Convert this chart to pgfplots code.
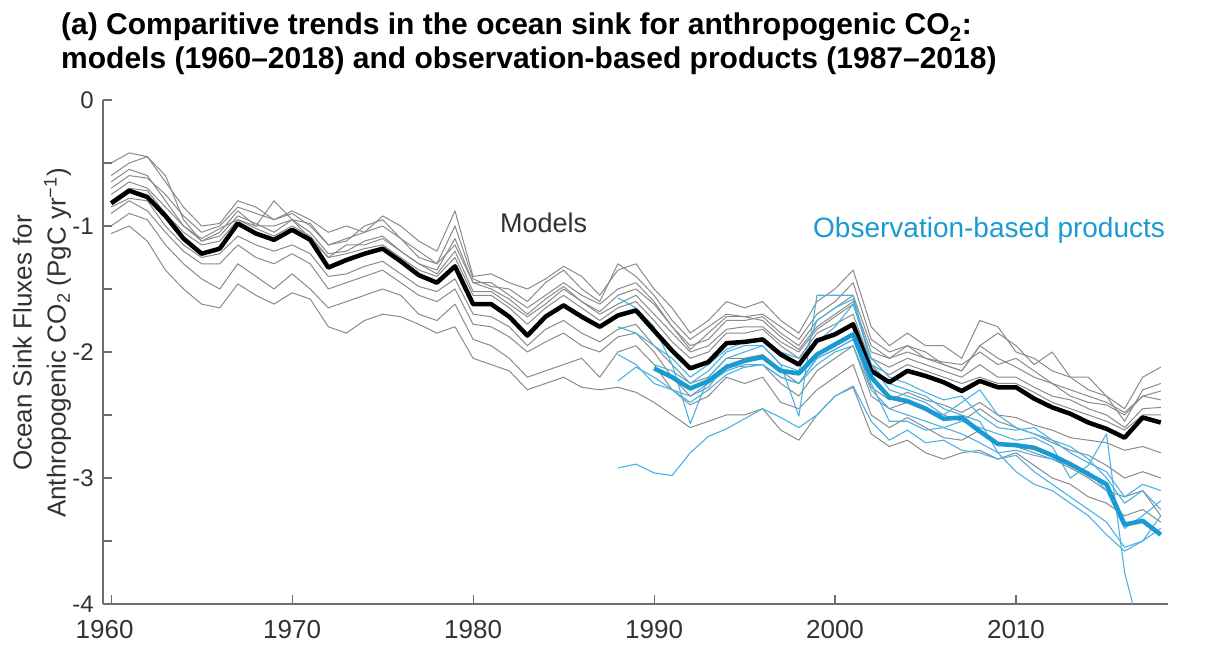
\documentclass[border=0pt]{standalone}
\usepackage{fontspec}
\setmainfont{Liberation Sans}
\usepackage{pgfplots}
\usepackage{pgfplotstable}
\pgfplotsset{compat=1.18}
\definecolor{obsblue}{RGB}{25,155,210}
\definecolor{obsthin}{RGB}{75,178,226}
\definecolor{modgrey}{RGB}{138,138,138}
\definecolor{axgrey}{RGB}{110,110,110}
\definecolor{txtgrey}{RGB}{50,50,50}

\pgfplotstableread{
year mean u1 u2 u3 u4 u5 u6 l1 l2 l3 l4
1960 -0.82 -0.50 -0.60 -0.70 -0.75 -0.65 -0.80 -1.06 -1.00 -0.90 -0.85
1961 -0.72 -0.42 -0.50 -0.60 -0.65 -0.55 -0.70 -1.00 -0.90 -0.80 -0.78
1962 -0.77 -0.45 -0.45 -0.62 -0.70 -0.60 -0.72 -1.12 -0.95 -0.88 -0.80
1963 -0.92 -0.65 -0.60 -0.75 -0.85 -0.80 -0.90 -1.35 -1.15 -1.05 -1.00
1964 -1.10 -0.85 -0.95 -0.92 -1.00 -1.00 -1.05 -1.50 -1.30 -1.20 -1.15
1965 -1.22 -1.00 -1.12 -1.05 -1.12 -1.10 -1.15 -1.62 -1.42 -1.30 -1.25
1966 -1.18 -0.98 -1.05 -1.00 -1.08 -1.02 -1.12 -1.65 -1.50 -1.30 -1.22
1967 -0.98 -0.80 -0.88 -0.85 -0.92 -0.95 -0.95 -1.46 -1.30 -1.15 -1.08
1968 -1.06 -0.85 -1.00 -0.90 -0.98 -1.00 -1.02 -1.55 -1.40 -1.25 -1.15
1969 -1.11 -0.95 -0.80 -0.95 -1.05 -1.00 -1.08 -1.62 -1.50 -1.30 -1.20
1970 -1.03 -0.88 -0.95 -0.90 -0.95 -0.95 -1.00 -1.53 -1.38 -1.22 -1.15
1971 -1.11 -0.95 -0.98 -1.00 -1.05 -1.10 -1.08 -1.58 -1.50 -1.30 -1.22
1972 -1.33 -1.05 -1.15 -1.15 -1.22 -1.25 -1.25 -1.80 -1.65 -1.50 -1.40
1973 -1.27 -1.00 -1.12 -1.10 -1.20 -1.15 -1.22 -1.85 -1.60 -1.45 -1.38
1974 -1.22 -1.05 -1.00 -1.05 -1.12 -1.15 -1.18 -1.75 -1.55 -1.40 -1.32
1975 -1.18 -0.92 -0.95 -1.00 -1.08 -1.10 -1.15 -1.70 -1.50 -1.35 -1.28
1976 -1.28 -1.00 -1.10 -1.10 -1.20 -1.20 -1.25 -1.72 -1.55 -1.45 -1.38
1977 -1.39 -1.12 -1.20 -1.25 -1.30 -1.30 -1.35 -1.78 -1.70 -1.55 -1.48
1978 -1.45 -1.20 -1.30 -1.30 -1.38 -1.35 -1.40 -1.85 -1.75 -1.60 -1.52
1979 -1.32 -0.88 -1.00 -1.15 -1.20 -1.10 -1.25 -1.80 -1.62 -1.50 -1.42
1980 -1.62 -1.40 -1.42 -1.45 -1.52 -1.45 -1.55 -2.05 -1.90 -1.78 -1.70
1981 -1.62 -1.38 -1.48 -1.45 -1.52 -1.50 -1.55 -2.10 -1.95 -1.80 -1.72
1982 -1.72 -1.45 -1.50 -1.55 -1.62 -1.58 -1.65 -2.15 -2.05 -1.88 -1.80
1983 -1.87 -1.50 -1.60 -1.65 -1.72 -1.70 -1.78 -2.30 -2.20 -2.00 -1.95
1984 -1.72 -1.42 -1.45 -1.55 -1.62 -1.58 -1.65 -2.25 -2.15 -1.92 -1.82
1985 -1.63 -1.32 -1.35 -1.45 -1.50 -1.48 -1.55 -2.20 -2.10 -1.85 -1.75
1986 -1.72 -1.40 -1.50 -1.55 -1.60 -1.60 -1.65 -2.28 -2.05 -1.95 -1.85
1987 -1.80 -1.55 -1.60 -1.62 -1.70 -1.68 -1.75 -2.30 -2.20 -2.00 -1.92
1988 -1.71 -1.35 -1.30 -1.50 -1.62 -1.55 -1.65 -2.28 -2.00 -1.88 -1.82
1989 -1.67 -1.30 -1.40 -1.45 -1.55 -1.50 -1.60 -2.32 -1.95 -1.85 -1.78
1990 -1.83 -1.50 -1.55 -1.60 -1.70 -1.62 -1.75 -2.40 -2.10 -2.00 -1.95
1991 -1.99 -1.65 -1.75 -1.80 -1.85 -1.80 -1.92 -2.50 -2.30 -2.20 -2.10
1992 -2.13 -1.85 -1.90 -1.95 -2.00 -1.98 -2.05 -2.60 -2.42 -2.35 -2.25
1993 -2.08 -1.75 -1.80 -1.90 -1.95 -1.85 -2.00 -2.55 -2.35 -2.28 -2.20
1994 -1.93 -1.60 -1.70 -1.75 -1.82 -1.72 -1.85 -2.50 -2.20 -2.10 -2.05
1995 -1.92 -1.65 -1.72 -1.75 -1.80 -1.72 -1.85 -2.50 -2.25 -2.12 -2.05
1996 -1.90 -1.60 -1.70 -1.72 -1.80 -1.75 -1.82 -2.45 -2.20 -2.10 -2.02
1997 -2.02 -1.75 -1.80 -1.85 -1.92 -1.88 -1.95 -2.62 -2.40 -2.25 -2.15
1998 -2.10 -1.85 -1.90 -1.95 -2.00 -1.98 -2.05 -2.70 -2.45 -2.35 -2.25
1999 -1.91 -1.60 -1.70 -1.75 -1.82 -1.80 -1.85 -2.50 -2.30 -2.15 -2.05
2000 -1.86 -1.50 -1.60 -1.65 -1.72 -1.70 -1.78 -2.35 -2.20 -2.05 -1.98
2001 -1.78 -1.35 -1.45 -1.55 -1.62 -1.60 -1.70 -2.28 -2.10 -1.95 -1.90
2002 -2.15 -1.80 -1.90 -1.95 -2.05 -2.00 -2.10 -2.65 -2.50 -2.35 -2.28
2003 -2.24 -1.95 -2.00 -2.05 -2.12 -2.05 -2.18 -2.75 -2.60 -2.45 -2.38
2004 -2.15 -1.85 -1.95 -1.95 -2.05 -2.00 -2.10 -2.70 -2.52 -2.40 -2.32
2005 -2.19 -1.95 -2.00 -2.05 -2.10 -2.05 -2.15 -2.80 -2.60 -2.45 -2.38
2006 -2.24 -1.95 -2.10 -2.08 -2.15 -2.10 -2.20 -2.85 -2.68 -2.50 -2.42
2007 -2.31 -2.05 -2.15 -2.10 -2.20 -2.15 -2.25 -2.80 -2.70 -2.55 -2.48
2008 -2.23 -1.75 -1.95 -2.00 -2.10 -1.95 -2.20 -2.78 -2.62 -2.45 -2.40
2009 -2.28 -1.80 -1.85 -2.10 -2.20 -2.05 -2.25 -2.85 -2.72 -2.55 -2.50
2010 -2.28 -2.00 -1.95 -2.05 -2.20 -2.12 -2.25 -2.80 -2.75 -2.60 -2.52
2011 -2.37 -2.05 -2.10 -2.15 -2.28 -2.20 -2.32 -2.90 -2.80 -2.65 -2.58
2012 -2.44 -2.15 -2.00 -2.25 -2.35 -2.25 -2.40 -3.00 -2.85 -2.72 -2.62
2013 -2.49 -2.20 -2.20 -2.30 -2.38 -2.35 -2.45 -3.05 -2.92 -2.78 -2.68
2014 -2.56 -2.20 -2.30 -2.35 -2.45 -2.40 -2.50 -3.15 -3.00 -2.82 -2.70
2015 -2.61 -2.35 -2.35 -2.40 -2.50 -2.42 -2.55 -3.20 -3.10 -2.90 -2.72
2016 -2.68 -2.45 -2.55 -2.48 -2.60 -2.50 -2.62 -3.30 -3.15 -3.00 -2.78
2017 -2.52 -2.20 -2.30 -2.35 -2.45 -2.35 -2.50 -3.25 -3.10 -2.95 -2.75
2018 -2.56 -2.12 -2.25 -2.31 -2.44 -2.38 -2.50 -3.35 -3.30 -3.00 -2.80
}\models

\pgfplotstableread{
year b o1 o2 o3 o4 o5 o6
1988 nan -2.92 -1.57 -1.80 -2.02 -2.23 nan
1989 nan -2.89 -1.65 -1.85 -2.10 -2.12 nan
1990 -2.13 -2.96 -1.80 -1.95 -2.25 -2.20 -2.10
1991 -2.20 -2.98 -2.10 -2.05 -2.30 -2.30 -2.15
1992 -2.29 -2.80 -2.57 -2.20 -2.40 -2.35 -2.25
1993 -2.23 -2.67 -2.20 -2.10 -2.30 -2.25 -2.15
1994 -2.12 -2.61 -2.05 -1.98 -2.18 -2.15 -2.00
1995 -2.07 -2.53 -2.00 -1.92 -2.12 -2.10 -1.95
1996 -2.04 -2.45 -1.95 -1.90 -2.10 -2.10 -1.95
1997 -2.15 -2.52 -2.10 -2.00 -2.20 -2.20 -2.10
1998 -2.17 -2.60 -2.51 -2.05 -2.25 -2.25 -2.15
1999 -2.02 -2.50 -1.55 -1.92 -2.10 -2.05 -1.75
2000 -1.94 -2.35 -1.55 -1.80 -2.00 -1.98 -1.65
2001 -1.86 -2.27 -1.55 -1.62 -1.95 -1.90 -1.58
2002 -2.20 -2.55 -2.10 -2.05 -2.30 -2.25 -2.10
2003 -2.36 -2.70 -2.25 -2.20 -2.45 -2.55 -2.30
2004 -2.39 -2.62 -2.30 -2.25 -2.50 -2.55 -2.35
2005 -2.45 -2.72 -2.35 -2.32 -2.55 -2.62 -2.40
2006 -2.53 -2.70 -2.45 -2.38 -2.60 -2.60 -2.50
2007 -2.52 -2.78 -2.50 -2.35 -2.65 -2.55 -2.40
2008 -2.63 -2.80 -2.55 -2.50 -2.72 -2.60 -2.30
2009 -2.73 -2.85 -2.80 -2.60 -2.80 -2.65 -2.50
2010 -2.74 -2.82 -2.95 -2.62 -2.78 -2.70 -2.60
2011 -2.76 -2.95 -3.05 -2.60 -2.82 -2.68 -2.65
2012 -2.82 -3.05 -3.10 -2.70 -2.85 -2.75 -2.70
2013 -2.89 -3.15 -3.20 -2.80 -2.90 -3.00 -2.75
2014 -2.97 -3.25 -3.30 -2.88 -2.95 -2.90 -2.85
2015 -3.05 -3.35 -3.45 -2.95 -3.10 -2.65 -3.00
2016 -3.37 -3.55 -3.58 -3.15 -3.40 -3.75 -3.20
2017 -3.34 -3.50 -3.50 -3.05 -3.30 -4.30 -3.10
2018 -3.45 -3.40 -3.30 -3.10 -3.18 nan -3.25
}\obs

\begin{document}
\begin{tikzpicture}[x=1pt,y=1pt]
\useasboundingbox (0,0) rectangle (1207,663);
\begin{axis}[
  at={(103pt,59pt)}, anchor=south west,
  width=1065pt, height=504pt, scale only axis,
  xmin=1959.55, xmax=2018.4, ymin=-4, ymax=0,
  axis x line=bottom, axis y line=left,
  axis line style={-, draw=axgrey, line width=1.3pt},
  tick align=inside,
  xtick={1960,1970,...,2010},
  xticklabels={\hspace*{-13pt}1960,1970,1980,1990,2000,2010},
  ytick={-4,-3,...,0},
  yticklabels={-4,-3,-2,-1,0},
  minor ytick={-3.5,-2.5,-1.5,-0.5},
  major tick length=9pt, minor tick length=9pt,
  every tick/.style={draw=axgrey, line width=1.1pt},
  every minor tick/.style={draw=axgrey, line width=1.1pt},
  xticklabel style={font=\fontsize{26}{28}\selectfont, text=txtgrey, inner ysep=0pt, yshift=-16pt},
  yticklabel style={font=\fontsize{24}{26}\selectfont, text=txtgrey, inner xsep=0pt, inner ysep=0pt, xshift=-9pt},
  clip=true,
  every axis plot/.append style={line join=round},
]
\foreach \c in {u1,u2,u3,u4,u5,u6,l1,l2,l3,l4} {
  \addplot[modgrey, line width=1pt] table[x=year, y=\c] {\models};
}
\foreach \c in {o1,o2,o3,o4,o5,o6} {
  \addplot[obsthin, line width=1.1pt] table[x=year, y=\c] {\obs};
}
\addplot[black, line width=4.5pt] table[x=year, y=mean] {\models};
\addplot[obsblue, line width=4.5pt] table[x=year, y=b] {\obs};
\end{axis}
\node[anchor=base west, font=\fontsize{30}{33}\selectfont\bfseries, inner sep=0pt] at (61,628)
  {(a) Comparitive trends in the ocean sink for anthropogenic CO\textsubscript{2}:};
\node[anchor=base west, font=\fontsize{30}{33}\selectfont\bfseries, inner sep=0pt] at (61,594)
  {models (1960–2018) and observation-based products (1987–2018)};
\node[anchor=base west, font=\fontsize{27}{29}\selectfont, text=txtgrey, inner sep=0pt] at (500,430) {Models};
\node[anchor=base west, font=\fontsize{28}{30}\selectfont, text=obsblue, inner sep=0pt] at (813,425) {Observation-based products};
\node[rotate=90, align=center, font=\fontsize{26}{34}\selectfont, text=txtgrey, inner sep=0pt] at (42,320)
  {Ocean Sink Fluxes for\\Anthropogenic CO\textsubscript{2} (PgC yr\textsuperscript{−1})};
\end{tikzpicture}
\end{document}
